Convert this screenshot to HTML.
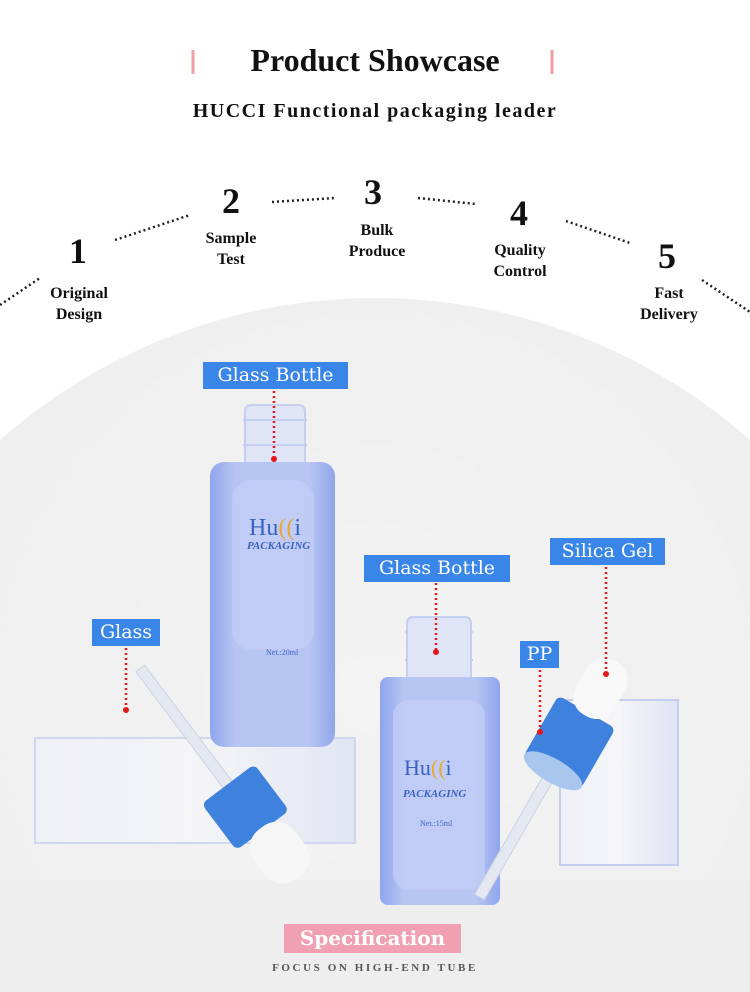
<!DOCTYPE html>
<html><head><meta charset="utf-8"><style>
*{margin:0;padding:0;box-sizing:border-box}
html{width:750px;height:992px;overflow:hidden}
body{width:750px;height:992px;overflow:hidden;background:#fff;position:relative;font-family:"Liberation Serif","DejaVu Serif",serif}
.a{position:absolute;white-space:nowrap}
.lbl{position:absolute;background:#3a86e8;color:#fff;font-family:"DejaVu Serif","Liberation Serif",serif;font-size:19px;line-height:27px;text-align:center;overflow:hidden}
.num{position:absolute;font-weight:bold;font-size:36px;width:60px;text-align:center;color:#111}
.st{position:absolute;font-weight:bold;font-size:16px;line-height:21px;width:110px;text-align:center;color:#111}
</style></head><body>
<svg class="a" style="left:0;top:0" width="750" height="992">
<defs>
<radialGradient id="bg" cx="50%" cy="35%" r="65%"><stop offset="0" stop-color="#f3f3f3"/><stop offset="1" stop-color="#ececec"/></radialGradient>
<linearGradient id="gl" x1="0" x2="1"><stop offset="0" stop-color="#8fa5ec"/><stop offset=".2" stop-color="#b7c5f3"/><stop offset=".8" stop-color="#b7c5f3"/><stop offset="1" stop-color="#8fa5ec"/></linearGradient>
<linearGradient id="cube" x1="0" x2="1"><stop offset="0" stop-color="#eef0f6"/><stop offset=".5" stop-color="#f6f6f8"/><stop offset="1" stop-color="#dfe4f4"/></linearGradient>
</defs>
<circle cx="375" cy="864" r="566" fill="url(#bg)"/>
<rect x="0" y="880" width="750" height="112" fill="#eeeeee"/>
<g stroke="#222" stroke-width="2.5" stroke-dasharray="2 3" fill="none">
<path d="M0 305 L40 278"/><path d="M115 240 L190 215"/><path d="M272 202 L335 198"/><path d="M418 198 L476 204"/><path d="M566 221 L630 243"/><path d="M702 280 L750 312"/>
</g>
<rect x="35" y="738" width="320" height="105" fill="url(#cube)" stroke="#cdd5ef" stroke-width="2" opacity=".9"/>
<rect x="560" y="700" width="118" height="165" fill="url(#cube)" stroke="#c4cff0" stroke-width="2"/>
<rect x="245" y="405" width="60" height="62" rx="6" fill="#dfe5f6" stroke="#c5cfee" stroke-width="2"/>
<g stroke="#c5cfee" stroke-width="2"><path d="M243 420 H307"/><path d="M243 445 H307"/><path d="M405 632 H473"/><path d="M405 660 H473"/></g>
<rect x="210" y="462" width="125" height="285" rx="14" fill="url(#gl)"/>
<rect x="232" y="480" width="82" height="170" rx="20" fill="#c3cff5" opacity=".7"/>
<rect x="407" y="617" width="64" height="65" rx="6" fill="#dfe5f6" stroke="#c5cfee" stroke-width="2"/>
<rect x="380" y="677" width="120" height="228" rx="8" fill="url(#gl)"/>
<rect x="393" y="700" width="92" height="190" rx="16" fill="#c3cff5" opacity=".7"/>
<g transform="rotate(-37 255 820)">
<rect x="249" y="630" width="11" height="150" fill="#e4e8f0" stroke="#cdd3e2"/>
<rect x="222" y="775" width="66" height="58" rx="6" fill="#3f82dd"/>
<rect x="230" y="830" width="50" height="62" rx="22" fill="#f6f6f6"/>
</g>
<g transform="rotate(30 565 750)">
<rect x="559" y="770" width="11" height="150" fill="#e4e8f0" stroke="#cdd3e2"/>
<rect x="532" y="706" width="66" height="70" rx="6" fill="#3f82dd"/>
<ellipse cx="565" cy="774" rx="33" ry="12" fill="#a9c6ef"/>
<rect x="543" y="648" width="44" height="62" rx="20" fill="#f8f8f8"/>
</g>
<g stroke="#e41818" stroke-width="2.5" stroke-dasharray="2 3" fill="none">
<path d="M274 391 V458"/><path d="M436 583 V650"/><path d="M606 567 V672"/><path d="M126 648 V708"/><path d="M540 670 V730"/>
</g>
<g fill="#e41818"><circle cx="274" cy="459" r="3"/><circle cx="436" cy="652" r="3"/><circle cx="606" cy="674" r="3"/><circle cx="126" cy="710" r="3"/><circle cx="540" cy="732" r="3"/></g>
<g stroke="#f0a0a0" stroke-width="3"><path d="M193 50 V74"/><path d="M552 50 V74"/></g>
</svg>
<div class="a" style="left:0;width:750px;top:42px;text-align:center;font-size:32px;font-weight:bold;color:#111">Product Showcase</div>
<div class="a" style="left:0;width:750px;top:100px;text-align:center;font-size:20px;font-weight:bold;letter-spacing:1.5px;color:#111">HUCCI Functional packaging leader</div>
<div class="num" style="left:48px;top:230px">1</div><div class="st" style="left:24px;top:283px">Original<br>Design</div>
<div class="num" style="left:201px;top:180px">2</div><div class="st" style="left:176px;top:228px">Sample<br>Test</div>
<div class="num" style="left:343px;top:171px">3</div><div class="st" style="left:322px;top:220px">Bulk<br>Produce</div>
<div class="num" style="left:489px;top:192px">4</div><div class="st" style="left:465px;top:240px">Quality<br>Control</div>
<div class="num" style="left:637px;top:235px">5</div><div class="st" style="left:614px;top:283px">Fast<br>Delivery</div>
<div class="a" style="left:249px;top:515px;font-size:24px;color:#3a62c0">Hu<span style="color:#e8a838">((</span>i</div>
<div class="a" style="left:247px;top:540px;font-size:11px;font-weight:bold;font-style:italic;color:#3a62c0">PACKAGING</div>
<div class="a" style="left:266px;top:648px;font-size:8px;color:#3a62c0">Net.:20ml</div>
<div class="a" style="left:404px;top:755px;font-size:22px;color:#3a62c0">Hu<span style="color:#e8a838">((</span>i</div>
<div class="a" style="left:403px;top:788px;font-size:11px;font-weight:bold;font-style:italic;color:#3a62c0">PACKAGING</div>
<div class="a" style="left:420px;top:819px;font-size:8px;color:#3a62c0">Net.:15ml</div>
<div class="lbl" style="left:203px;top:362px;width:145px;height:27px">Glass Bottle</div>
<div class="lbl" style="left:364px;top:555px;width:146px;height:27px">Glass Bottle</div>
<div class="lbl" style="left:550px;top:538px;width:115px;height:27px">Silica Gel</div>
<div class="lbl" style="left:92px;top:619px;width:68px;height:27px">Glass</div>
<div class="lbl" style="left:520px;top:641px;width:39px;height:27px">PP</div>
<div class="a" style="left:284px;top:924px;width:177px;height:29px;background:#f0a0b2;color:#fff;font-family:'DejaVu Serif',serif;font-weight:bold;font-size:20px;line-height:29px;text-align:center">Specification</div>
<div class="a" style="left:0;width:750px;top:961px;height:14px;text-align:center;font-size:11px;line-height:14px;font-weight:bold;letter-spacing:2.6px;color:#555">FOCUS ON HIGH-END TUBE</div>
</body></html>
